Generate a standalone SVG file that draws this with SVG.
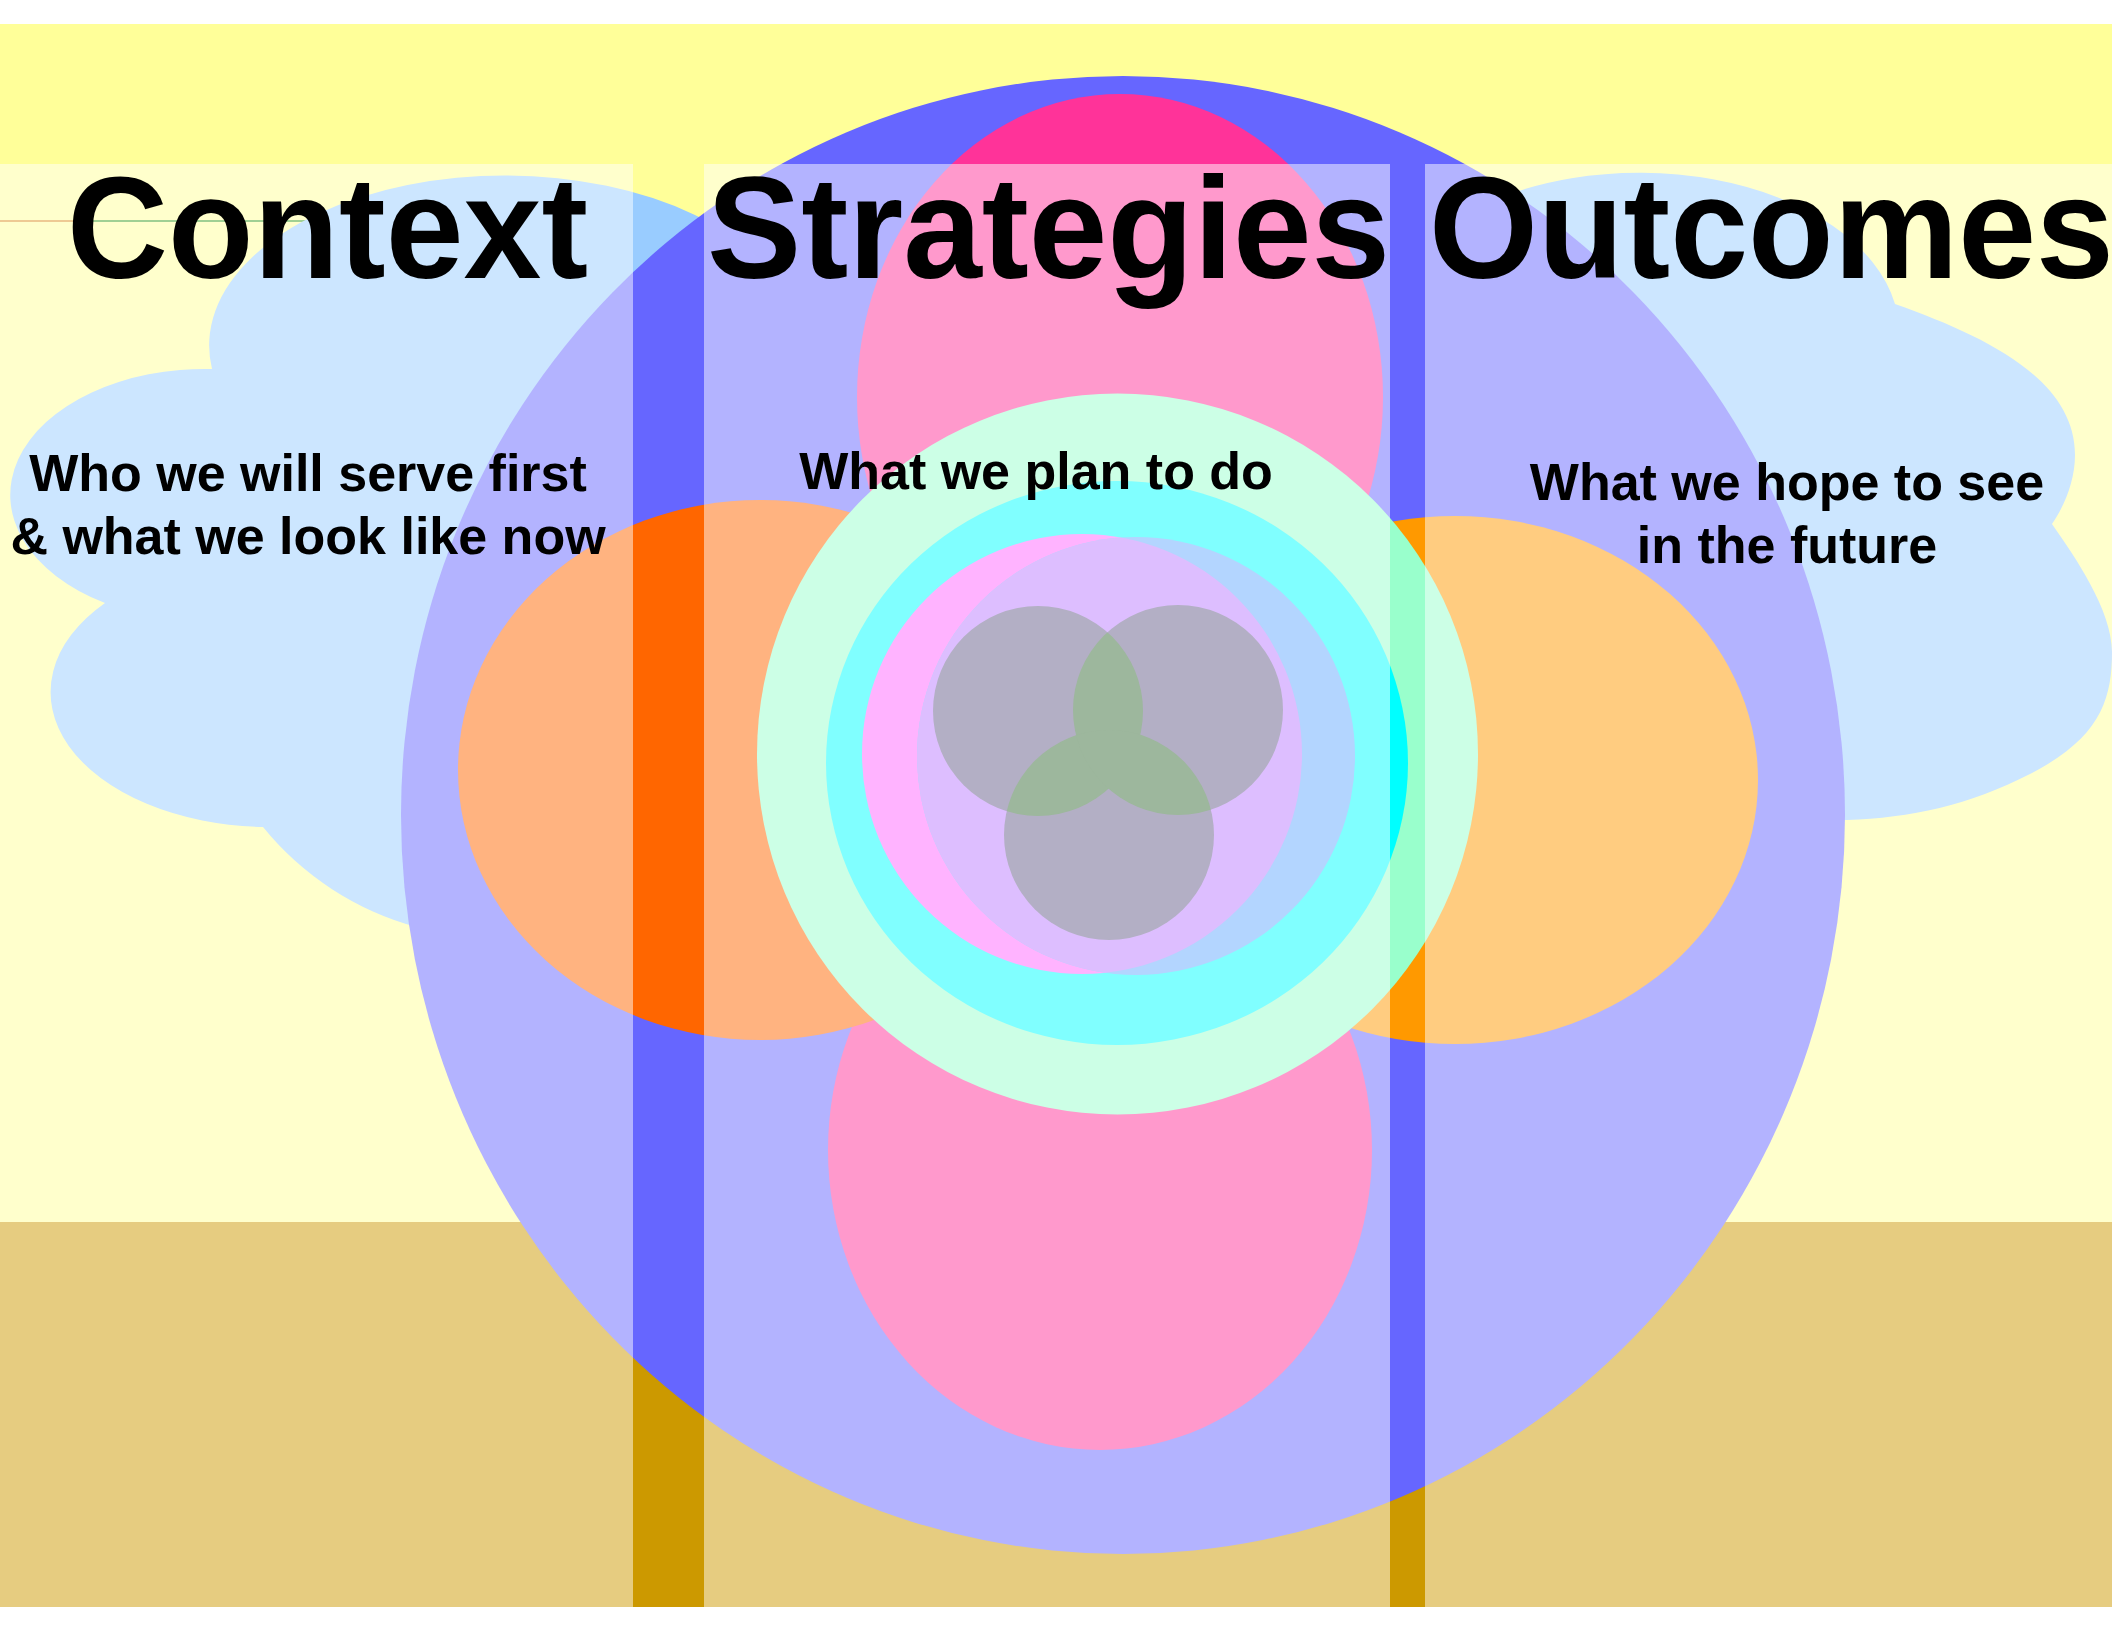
<svg xmlns="http://www.w3.org/2000/svg" width="2112" height="1632" viewBox="0 0 2112 1632">
  <style>
    .title { font-family: "Liberation Sans", Arial, sans-serif; font-weight: bold; font-size: 145px; fill: #000; }
    .sub { font-family: "Liberation Sans", Arial, sans-serif; font-weight: bold; font-size: 52px; fill: #000; text-anchor: middle; }
    .panel { fill: #FFFFFF; fill-opacity: 0.5; }
    .cloud { fill: #99CCFF; }
  </style>
  <defs>
    <clipPath id="clipGrayA"><circle cx="1038" cy="711" r="105"/></clipPath>
    <clipPath id="clipGrayB"><circle cx="1178" cy="710" r="105"/></clipPath>
    <clipPath id="clipPinkDisc"><circle cx="1082" cy="754" r="220"/></clipPath>
  </defs>

  <rect id="page" x="0" y="0" width="2112" height="1632" fill="#FFFFFF"/>

  <g id="background">
    <rect x="0" y="24" width="2112" height="1198" fill="#FFFF99"/>
    <rect x="0" y="1222" width="2112" height="385" fill="#CC9900"/>
    <line x1="0" y1="221" x2="93" y2="221" stroke="#D07000" stroke-width="1.5"/>
    <line x1="93" y1="221" x2="420" y2="221" stroke="#008000" stroke-width="1.5"/>
  </g>

  <g id="clouds">
    <path id="cloud-left" class="cloud" d="M 800,300 L 760,259 A 296 170 0 0 0 212,369 A 195 126 0 0 0 105,603 A 219 135 0 0 0 263,827 A 298 298 0 0 0 600,918 L 800,700 Z"/>
    <path id="cloud-right" class="cloud" d="M 1500,500 L 1450,223 A 260 160 0 0 1 1895,304 C 1988,337 2075,380 2075,455 C 2075,480 2065,505 2052,524 C 2075,557 2112,610 2112,652 C 2112,700 2100,738 2030,774 C 1970,805 1910,818 1847,820 L 1760,818 L 1600,700 Z"/>
  </g>

  <g id="flower">
    <ellipse id="big-circle" cx="1123" cy="815" rx="722" ry="739" fill="#6666FF"/>
    <ellipse id="petal-top" cx="1120" cy="397" rx="263" ry="303" fill="#FF3399"/>
    <ellipse id="petal-bottom" cx="1100" cy="1150" rx="272" ry="300" fill="#FF3399"/>
    <ellipse id="petal-left" cx="760" cy="770" rx="302" ry="270" fill="#FF6600"/>
    <ellipse id="petal-right" cx="1455" cy="780" rx="303" ry="264" fill="#FF9900"/>
    <circle id="ring-mint" cx="1117.5" cy="754" r="360.5" fill="#99FFCC"/>
    <ellipse id="ring-cyan" cx="1117" cy="763" rx="291" ry="282" fill="#00FFFF"/>
    <circle id="disc-pink" cx="1082" cy="754" r="220" fill="#FF66FF"/>
    <circle id="disc-blue" cx="1136" cy="756" r="219" fill="#66AAFF"/>
    <circle cx="1136" cy="756" r="219" fill="#BB7DFF" clip-path="url(#clipPinkDisc)"/>
    <g id="venn">
      <circle cx="1038" cy="711" r="105" fill="#675F8A"/>
      <circle cx="1178" cy="710" r="105" fill="#675F8A"/>
      <circle cx="1109" cy="835" r="105" fill="#675F8A"/>
      <circle cx="1178" cy="710" r="105" fill="#3A6E3A" clip-path="url(#clipGrayA)"/>
      <circle cx="1109" cy="835" r="105" fill="#3A6E3A" clip-path="url(#clipGrayA)"/>
      <circle cx="1109" cy="835" r="105" fill="#3A6E3A" clip-path="url(#clipGrayB)"/>
    </g>
  </g>

  <g id="panels">
    <rect id="panel-context" class="panel" x="0" y="164" width="633" height="1443"/>
    <rect id="panel-strategies" class="panel" x="704" y="164" width="686" height="1443"/>
    <rect id="panel-outcomes" class="panel" x="1425" y="164" width="687" height="1443"/>
  </g>

  <g id="titles">
    <text class="title" x="67" y="278" textLength="521" lengthAdjust="spacingAndGlyphs">Context</text>
    <text class="title" x="707" y="278" textLength="683" lengthAdjust="spacingAndGlyphs">Strategies</text>
    <text class="title" x="1429" y="278" textLength="685" lengthAdjust="spacingAndGlyphs">Outcomes</text>
  </g>

  <g id="subtitles">
    <text class="sub" x="308" y="491">Who we will serve first</text>
    <text class="sub" x="308" y="554">&amp; what we look like now</text>
    <text class="sub" x="1036" y="489">What we plan to do</text>
    <text class="sub" x="1787" y="500">What we hope to see</text>
    <text class="sub" x="1787" y="563">in the future</text>
  </g>
</svg>
